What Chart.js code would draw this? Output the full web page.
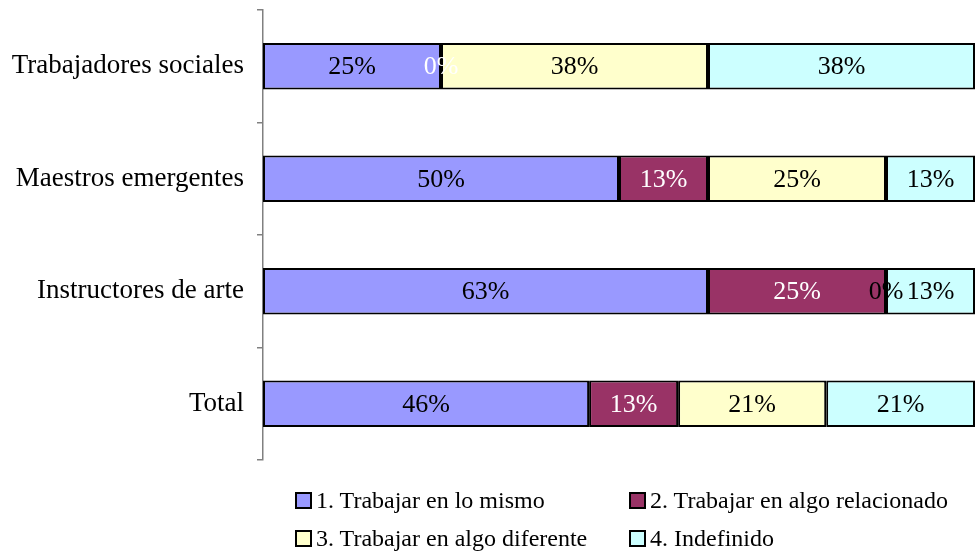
<!DOCTYPE html>
<html>
<head>
<meta charset="utf-8">
<script src="https://cdn.jsdelivr.net/npm/chart.js@4"></script>
<style>
  html, body { margin: 0; padding: 0; background: #fff; }
  #wrap { position: relative; width: 975px; height: 552px; }
  #legend { position: absolute; left: 0; top: 0; font-family: "Liberation Serif", "Times New Roman", serif; font-size: 24px; color: #000; }
  .lg-item { position: absolute; white-space: nowrap; display: flex; align-items: center; height: 24px; line-height: 24px; }
  .lg-box { display: inline-block; width: 13px; height: 13px; border: 2px solid #000; margin-right: 4px; margin-top: 1px; }
</style>
</head>
<body>
<div id="wrap">
  <canvas id="c" width="975" height="552"></canvas>
  <div id="legend"></div>
</div>
<script>
/* --- data --- */
var categories = ['Trabajadores sociales', 'Maestros emergentes', 'Instructores de arte', 'Total'];
var seriesNames = ['1. Trabajar en lo mismo', '2. Trabajar en algo relacionado', '3. Trabajar en algo diferente', '4. Indefinido'];
var serie1 = [25, 50, 62.5, 45.8];
var serie2 = [0, 12.5, 25, 12.5];
var serie3 = [37.5, 25, 0, 20.8];
var serie4 = [37.5, 12.5, 12.5, 20.9];
var seriesColors = ['#9999FF', '#993366', '#FFFFCC', '#CCFFFF'];
var labelColors = ['#000', '#fff', '#000', '#000'];

var allSeries = [serie1, serie2, serie3, serie4];
var datasets = [];
for (var i = 0; i < allSeries.length; i++) {
  datasets.push({
    label: seriesNames[i],
    data: allSeries[i],
    backgroundColor: seriesColors[i],
    borderColor: '#000',
    borderWidth: 2,
    borderSkipped: false,
    barPercentage: 0.415,
    categoryPercentage: 1
  });
}

/* --- value labels in the middle of each segment --- */
var valueLabels = {
  id: 'valueLabels',
  afterDatasetsDraw: function(chart) {
    var ctx = chart.ctx;
    ctx.save();
    ctx.font = '26px "Liberation Serif", "Times New Roman", serif';
    ctx.textAlign = 'center';
    ctx.textBaseline = 'middle';
    chart.data.datasets.forEach(function(ds, di) {
      var meta = chart.getDatasetMeta(di);
      meta.data.forEach(function(bar, j) {
        var cx = (bar.x + bar.base) / 2;
        ctx.fillStyle = labelColors[di];
        ctx.fillText(Math.round(ds.data[j]) + '%', cx, bar.y + 1);
      });
    });
    ctx.restore();
  }
};

new Chart(document.getElementById('c'), {
  type: 'bar',
  data: { labels: categories, datasets: datasets },
  options: {
    indexAxis: 'y',
    responsive: false,
    animation: false,
    layout: { padding: { top: 10, right: 0, bottom: 92, left: 0 } },
    plugins: { legend: { display: false }, tooltip: { enabled: false } },
    scales: {
      x: { stacked: true, min: 0, max: 100, display: false },
      y: {
        stacked: true,
        afterFit: function(scale) { scale.width = 263; scale.paddingTop = 0; scale.paddingBottom = 0; },
        border: { display: true, color: '#808080', width: 1.5 },
        grid: { offset: true, drawOnChartArea: false, tickLength: 6, color: '#808080', lineWidth: 1.5 },
        ticks: { color: '#000', padding: 13, font: { family: '"Liberation Serif", "Times New Roman", serif', size: 27 } }
      }
    }
  },
  plugins: [valueLabels]
});

/* --- legend, two columns --- */
var lg = document.getElementById('legend');
var pos = [[295, 488], [629, 488], [295, 526], [629, 526]];
for (var k = 0; k < seriesNames.length; k++) {
  var it = document.createElement('div');
  it.className = 'lg-item';
  it.style.left = pos[k][0] + 'px';
  it.style.top = pos[k][1] + 'px';
  it.innerHTML = '<span class="lg-box" style="background:' + seriesColors[k] + '"></span>' + seriesNames[k];
  lg.appendChild(it);
}
</script>
</body>
</html>
